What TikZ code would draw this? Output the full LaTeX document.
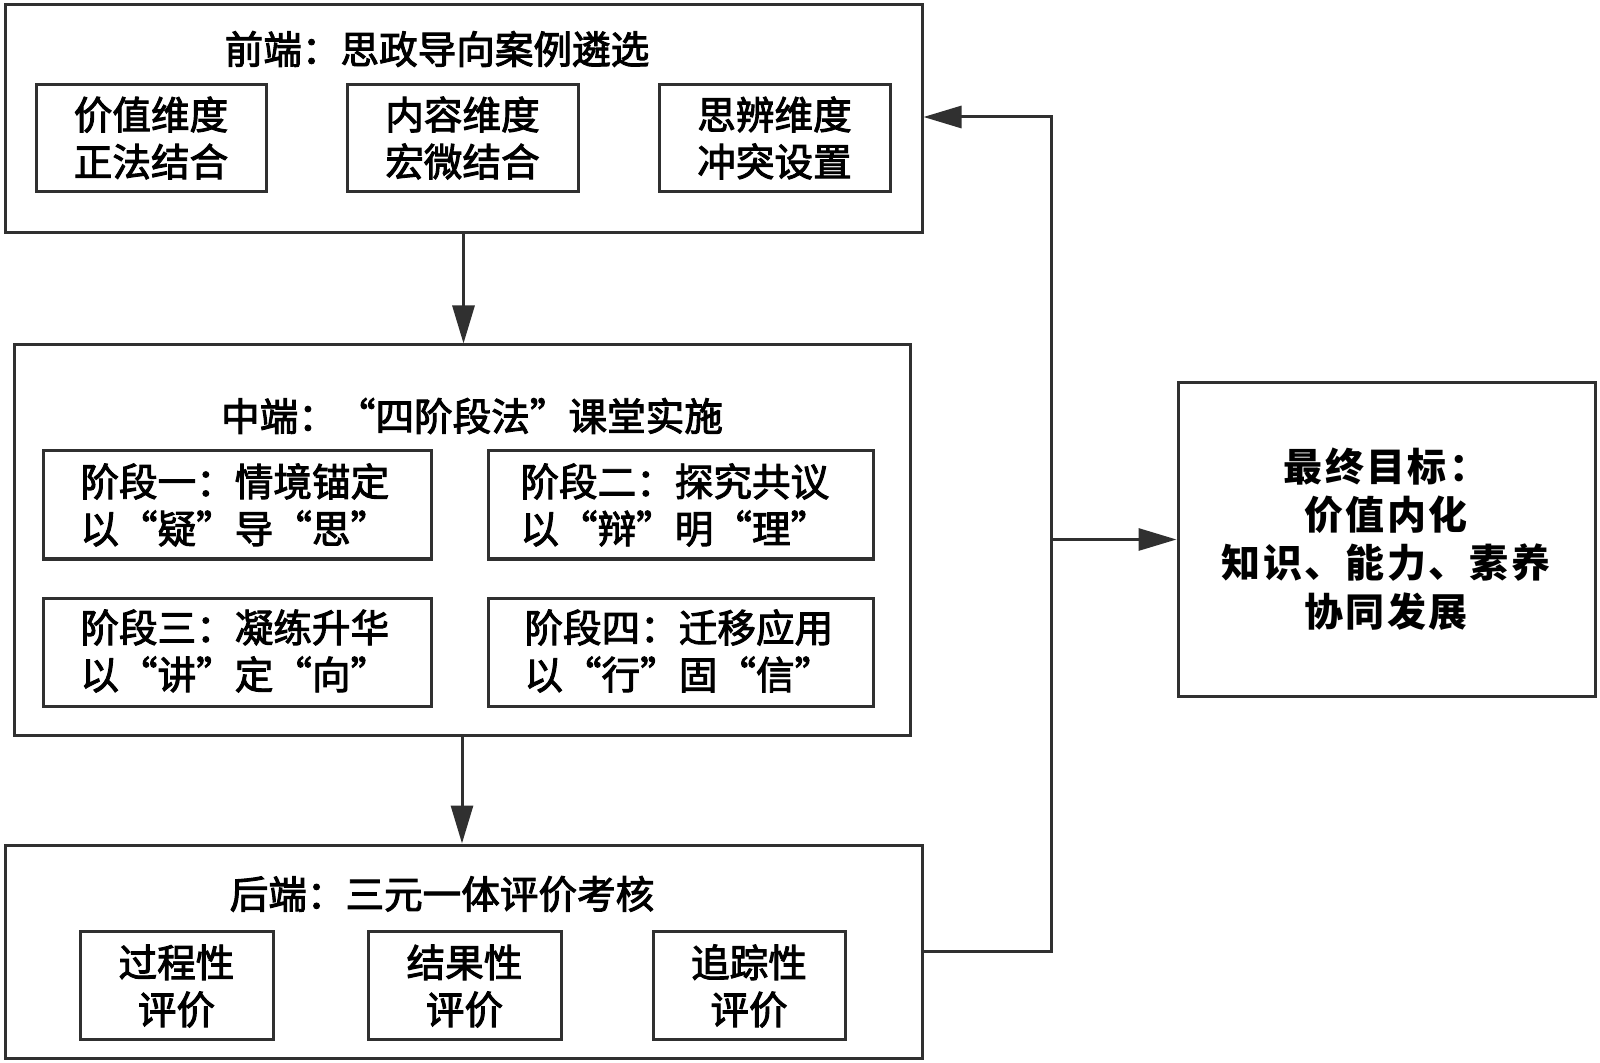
\documentclass[tikz,border=0pt]{standalone}
\usepackage{fontspec}
\setmainfont{Noto Sans CJK SC}
\newfontfamily\heavyfont{Noto Sans CJK SC}[FakeBold=2.5]
\usetikzlibrary{arrows.meta,fit}
\definecolor{linegray}{HTML}{303030}
\begin{document}
\begin{tikzpicture}[x=0.5pt,y=-0.5pt,
  boxline/.style={draw=linegray,line width=1.5pt},
  frame/.style={boxline,rectangle,inner sep=0pt},
  txt/.style={inner sep=0pt,font=\heavyfont\fontsize{19.3}{23.5}\selectfont},
  goaltxt/.style={inner sep=0pt,align=center,font=\bfseries\fontsize{19.5}{24.2}\selectfont\addfontfeature{LetterSpace=6}},
  arrow/.style={boxline,-{Triangle[length=19pt,width=11pt]}}]
\useasboundingbox (0,0) rectangle (1600,1063);
\fill[white] (0,0) rectangle (1600,1063);
% top block
\node[frame,fit={(5,5) (922,233)}] (top) {};
\node[txt] (toptitle) at (437,49) {前端：思政导向案例遴选};
\node[frame,fit={(36,85) (266,192)}] (v1) {};
\node[txt,align=center] (v1t) at (151,138) {价值维度\\正法结合};
\node[frame,fit={(347,85) (578,192)}] (v2) {};
\node[txt,align=center] (v2t) at (462.5,138) {内容维度\\宏微结合};
\node[frame,fit={(659,85) (890,192)}] (v3) {};
\node[txt,align=center] (v3t) at (774.5,138) {思辨维度\\冲突设置};
% middle block
\node[frame,fit={(14,345) (910,735)}] (mid) {};
\node[txt] (midtitle) at (472,416) {中端：“四阶段法”课堂实施};
\node[frame,fit={(43,451) (431,559)}] (s1) {};
\node[txt,align=left,anchor=west] (s1t) at (80,505) {阶段一：情境锚定\\以“疑”导“思”};
\node[frame,fit={(488,451) (873,559)}] (s2) {};
\node[txt,align=left,anchor=west] (s2t) at (520,505) {阶段二：探究共议\\以“辩”明“理”};
\node[frame,fit={(43,598) (431,706)}] (s3) {};
\node[txt,align=left,anchor=west] (s3t) at (80,651) {阶段三：凝练升华\\以“讲”定“向”};
\node[frame,fit={(488,598) (873,706)}] (s4) {};
\node[txt,align=left,anchor=west] (s4t) at (524,651) {阶段四：迁移应用\\以“行”固“信”};
% bottom block
\node[frame,fit={(5,845) (922,1058)}] (bot) {};
\node[txt] (bottitle) at (442,894) {后端：三元一体评价考核};
\node[frame,fit={(80,931) (273,1039)}] (e1) {};
\node[txt,align=center] (e1t) at (176.5,986) {过程性\\评价};
\node[frame,fit={(368,931) (561,1039)}] (e2) {};
\node[txt,align=center] (e2t) at (464.5,986) {结果性\\评价};
\node[frame,fit={(653,931) (845,1039)}] (e3) {};
\node[txt,align=center] (e3t) at (749,986) {追踪性\\评价};
% goal
\node[frame,fit={(1178,383) (1595,696)}] (goal) {};
\node[goaltxt] (goalt) at (1386,539) {最终目标：\\价值内化\\知识、能力、素养\\协同发展};
% connectors
\coordinate (cb) at (1051,951.5);
\coordinate (ct) at (1051,117);
\coordinate (cm) at (1051,539.5);
\draw[arrow] (top.south) -- (top.south |- mid.north);
\draw[arrow] (mid.south) -- (mid.south |- bot.north);
\draw[arrow] (bot.east) -- (cb) -- (ct) -- (ct -| top.east);
\draw[arrow] (cm) -- (goal.west);
\end{tikzpicture}
\end{document}
